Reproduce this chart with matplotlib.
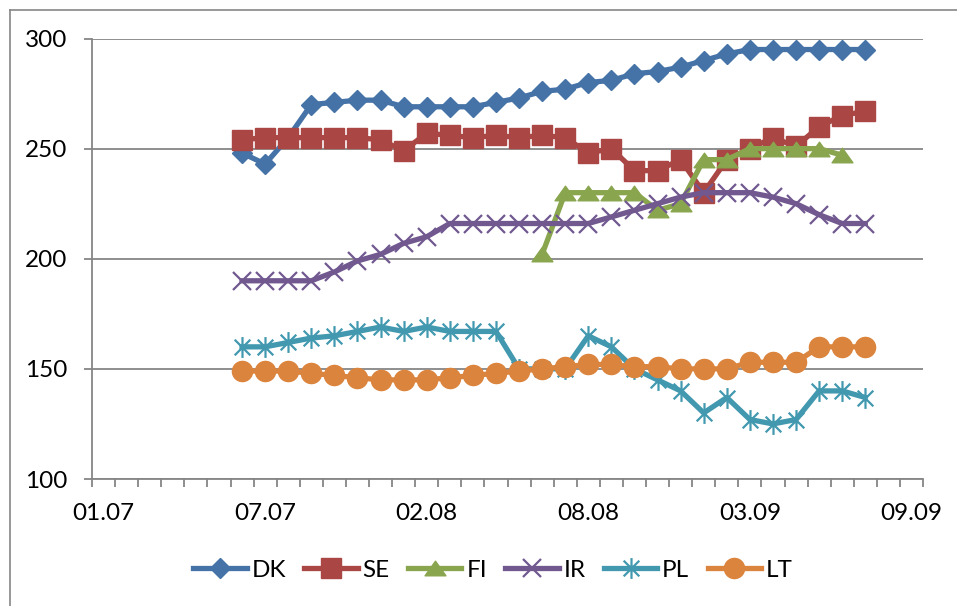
import numpy as np
import matplotlib.pyplot as plt
from matplotlib.lines import Line2D
from matplotlib.path import Path

plt.rcParams['font.family'] = ['Lato', 'DejaVu Sans']

# 36 category slots on the x axis, a date label every 7th slot
n_cats = 36
tick_labels = ['01.07', '07.07', '02.08', '08.08', '03.09', '09.09']
label_step = 7

# series values (each series starts at its own category slot)
dk_start = 6
dk = [248, 243, 255, 270, 271, 272, 272, 269, 269, 269, 269, 271, 273, 276,
      277, 280, 281, 284, 285, 287, 290, 293, 295, 295, 295, 295, 295, 295]
se_start = 6
se = [254, 255, 255, 255, 255, 255, 254, 249, 257, 256, 255, 256, 255, 256,
      255, 248, 250, 240, 240, 245, 230, 245, 250, 255, 251, 260, 265, 267]
fi_start = 19
fi = [202, 230, 230, 230, 230, 222, 225, 245, 245, 250, 250, 250, 250, 247]
ir_start = 6
ir = [190, 190, 190, 190, 194, 199, 202, 207, 210, 216, 216, 216, 216, 216,
      216, 216, 219, 222, 225, 228, 230, 230, 230, 228, 225, 220, 216, 216]
pl_start = 6
pl = [160, 160, 162, 164, 165, 167, 169, 167, 169, 167, 167, 167, 150, 150,
      150, 165, 160, 150, 145, 140, 130, 137, 127, 125, 127, 140, 140, 137]
lt_start = 6
lt = [149, 149, 149, 148, 147, 146, 145, 145, 145, 146, 147, 148, 149, 150,
      151, 152, 152, 151, 151, 150, 150, 150, 153, 153, 153, 160, 160, 160]

names = ['DK', 'SE', 'FI', 'IR', 'PL', 'LT']

# markers like the office chart ones
tri = Path([(-1, -0.7), (1, -0.7), (0, 0.7), (-1, -0.7)],
           [Path.MOVETO, Path.LINETO, Path.LINETO, Path.CLOSEPOLY])
aster = Path([(0, -1), (0, 1), (-0.75, -0.75), (0.75, 0.75),
              (-0.75, 0.75), (0.75, -0.75)],
             [Path.MOVETO, Path.LINETO] * 3)

styles = [
    dict(color='#4572A7', marker='D', ms=10.5),
    dict(color='#AA4643', marker='s', ms=14),
    dict(color='#89A54E', marker=tri, ms=15),
    dict(color='#71588F', marker='x', ms=13, mew=1.6),
    dict(color='#4198AF', marker=aster, ms=15, mew=1.6, mfc='none'),
    dict(color='#DB843D', marker='o', ms=14.5),
]

W, H = 957, 606
fig = plt.figure(figsize=(W / 100, H / 100), dpi=100)
ax = fig.add_axes([92 / W, 1 - 479 / H, (923 - 92) / W, (479 - 38.5) / H])

grey = '#868686'
series = [(dk_start, dk), (se_start, se), (fi_start, fi),
          (ir_start, ir), (pl_start, pl), (lt_start, lt)]
for name, (start, vals), st in zip(names, series, styles):
    x = np.arange(start, start + len(vals)) + 0.5
    ax.plot(x, vals, lw=3.8, label=name, solid_joinstyle='round',
            markeredgecolor=st['color'], **st)

ax.set_xlim(0, n_cats)
ax.set_ylim(100, 300)
ax.set_yticks(np.arange(100, 301, 50))
ax.yaxis.grid(True, color=grey, lw=1.3)
ax.set_axisbelow(True)

# tick marks on the category boundaries, labels in the middle of slots
ax.set_xticks(np.arange(0, n_cats + 1))
ax.set_xticklabels([])
ax.set_xticks(np.arange(0, n_cats, label_step) + 0.5, minor=True)
ax.set_xticklabels(tick_labels, minor=True)
ax.tick_params(axis='x', which='minor', length=0, pad=17, labelsize=17.5)
ax.tick_params(axis='x', which='major', length=6, width=1.3, color=grey)
ax.tick_params(axis='y', length=6, width=1.3, color=grey, pad=12,
               labelsize=17.5)

for s in ['top', 'right']:
    ax.spines[s].set_visible(False)
for s in ['left', 'bottom']:
    ax.spines[s].set_color(grey)
    ax.spines[s].set_linewidth(1.3)

# chart frame (top and left edge)
fig.add_artist(Line2D([9.5 / W, 9.5 / W], [0, 1 - 9.5 / H], color=grey,
                      lw=1.2, transform=fig.transFigure))
fig.add_artist(Line2D([9.5 / W, 1], [1 - 9.5 / H, 1 - 9.5 / H], color=grey,
                      lw=1.2, transform=fig.transFigure))

fig.legend(loc='center', bbox_to_anchor=(493 / W, 1 - 570 / H), ncol=6,
           frameon=False, fontsize=17.5, handlelength=2.2, handletextpad=0.2,
           columnspacing=0.75, borderaxespad=0)

fig.savefig('out.png', dpi=100)
